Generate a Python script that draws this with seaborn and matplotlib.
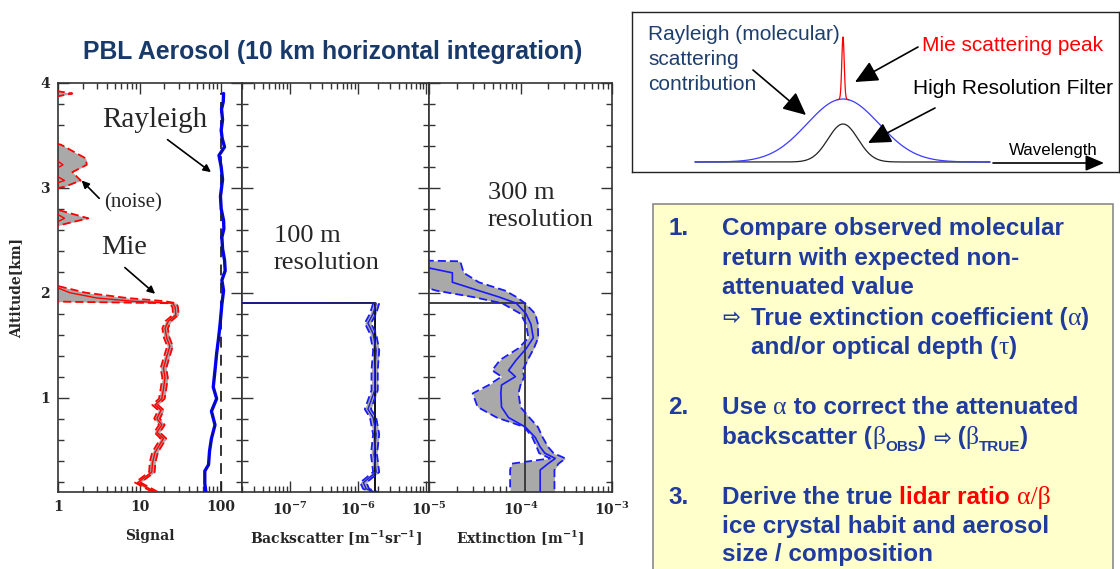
import numpy as np
import matplotlib
matplotlib.use("Agg")
import matplotlib.pyplot as plt
import seaborn as sns
from matplotlib.ticker import FixedLocator, LogLocator, NullFormatter, MultipleLocator
from matplotlib.patches import Rectangle

# ---------------------------------------------------------------- data
# Panel 1 : lidar signal (Rayleigh and Mie channels)
ray_alt = [0.10, 0.18, 0.30, 0.36, 0.49, 0.61, 0.74, 0.87, 0.99, 1.10, 1.26, 1.42,
           1.57, 1.70, 1.89, 2.02, 2.12, 2.21, 2.31, 2.42, 2.53, 2.61, 2.69, 2.80,
           2.92, 3.00, 3.08, 3.20, 3.31, 3.39, 3.47, 3.55, 3.65, 3.75, 3.82, 3.90]
ray_signal = [65, 63, 63, 70, 72, 76, 84, 76, 88, 80, 84, 88,
              93, 97, 102, 107, 102, 112, 110, 104, 102, 108, 107, 100,
              98, 101, 104, 100, 94, 110, 103, 100, 104, 101, 106, 107]
ray_expected_alt = [0.10, 3.90]
ray_expected = [100, 100]

mie_alt = [0.10, 0.19, 0.29, 0.38, 0.48, 0.61, 0.67, 0.74, 0.80, 0.88, 0.93, 0.99,
           1.08, 1.19, 1.28, 1.39, 1.49, 1.57, 1.66, 1.73, 1.79, 1.86, 1.90, 1.92,
           1.95, 2.00, 2.06, 2.12, 2.60, 2.64, 2.71, 2.79, 2.82, 2.97, 3.01, 3.07,
           3.15, 3.22, 3.28, 3.34, 3.41, 3.45, 3.85, 3.90, 3.94, 4.00]
mie_signal = [15.5, 9.5, 14.1, 14.4, 15.5, 19.6, 16.3, 18.7, 16.3, 18.3, 15.5, 18.7,
              19.6, 20.5, 19.6, 21.5, 23.5, 21.5, 20.5, 22.5, 27.8, 27.3, 25.5, 8.0,
              3.0, 1.4, 0.9, 0.6, 0.5, 0.8, 1.2, 0.8, 0.5, 0.5, 0.7, 1.2,
              0.8, 1.15, 0.9, 0.7, 0.6, 0.5, 0.5, 0.8, 0.5, 0.5]
mie_upper = [16.8, 10.3, 15.3, 15.6, 16.8, 21.2, 17.7, 20.3, 17.7, 19.8, 16.8, 20.3,
             21.2, 22.2, 21.2, 23.3, 25.5, 23.3, 22.2, 24.4, 30.1, 29.6, 28.5, 20.0,
             7.0, 2.2, 1.05, 0.7, 0.6, 1.0, 2.35, 1.0, 0.6, 0.6, 1.2, 1.9,
             1.5, 2.25, 2.2, 1.6, 1.1, 0.7, 0.7, 1.5, 0.7, 0.6]
mie_lower = [14.3, 8.8, 13.1, 13.3, 14.3, 18.1, 15.1, 17.3, 15.1, 16.9, 14.3, 17.3,
             18.1, 19.0, 18.1, 19.9, 21.8, 19.9, 19.0, 20.8, 25.7, 25.3, 23.5, 0.4,
             0.4, 0.4, 0.4, 0.4, 0.4, 0.4, 0.4, 0.4, 0.4, 0.4, 0.4, 0.4,
             0.4, 0.4, 0.4, 0.4, 0.4, 0.4, 0.4, 0.4, 0.4, 0.4]

# Panel 2 : backscatter (100 m resolution)
bsc_alt = [1.905, 1.90, 1.80, 1.71, 1.61, 1.45, 1.26, 1.07, 0.89, 0.81, 0.65, 0.46,
           0.29, 0.19, 0.13, 0.10]
bsc_mean = [1e-9, 1.85e-6, 1.67e-6, 1.40e-6, 1.67e-6, 1.85e-6, 1.76e-6, 1.76e-6,
            1.40e-6, 1.67e-6, 1.85e-6, 1.72e-6, 1.85e-6, 1.20e-6, 1.32e-6, 1.76e-6]
bsc_upper = [1e-9, 2.05e-6, 1.85e-6, 1.55e-6, 1.85e-6, 2.05e-6, 1.95e-6, 1.95e-6,
             1.55e-6, 1.85e-6, 2.05e-6, 1.90e-6, 2.05e-6, 1.33e-6, 1.46e-6, 1.95e-6]
bsc_lower = [1e-9, 1.67e-6, 1.50e-6, 1.26e-6, 1.50e-6, 1.67e-6, 1.58e-6, 1.58e-6,
             1.26e-6, 1.50e-6, 1.67e-6, 1.55e-6, 1.67e-6, 1.08e-6, 1.19e-6, 1.58e-6]

# Panel 3 : extinction (300 m resolution)
ext_alt = [2.31, 2.30, 2.24, 2.19, 2.10, 2.02, 1.96, 1.90, 1.80, 1.70, 1.57, 1.47,
           1.36, 1.26, 1.20, 1.12, 1.04, 0.91, 0.81, 0.72, 0.62, 0.53, 0.47, 0.42,
           0.37, 0.31, 0.21, 0.10]
ext_mean = [5e-6, 5e-6, 9.5e-6, 1.8e-5, 1.8e-5, 3.5e-5, 5.8e-5, 9.0e-5, 1.15e-4, 1.30e-4,
            1.38e-4, 1.16e-4, 9.0e-5, 7.4e-5, 8.8e-5, 6.2e-5, 6.1e-5, 6.2e-5, 7.4e-5,
            1.13e-4, 1.45e-4, 1.64e-4, 1.85e-4, 2.4e-4, 2.0e-4, 1.64e-4, 1.64e-4, 1.64e-4]
ext_upper = [5e-6, 2.2e-5, 2.3e-5, 2.4e-5, 3.5e-5, 6.8e-5, 9.0e-5, 1.12e-4, 1.45e-4,
             1.55e-4, 1.56e-4, 1.40e-4, 1.20e-4, 1.05e-4, 1.10e-4, 1.00e-4, 9.5e-5,
             1.00e-4, 1.25e-4, 1.55e-4, 1.75e-4, 2.0e-4, 2.3e-4, 3.1e-4, 2.6e-4,
             2.35e-4, 2.35e-4, 2.35e-4]
ext_lower = [5e-6, 5e-6, 5e-6, 5e-6, 6e-6, 1.2e-5, 3.0e-5, 6.3e-5, 1.0e-4, 1.15e-4,
             1.22e-4, 9.5e-5, 6.0e-5, 4.9e-5, 6.2e-5, 4.5e-5, 3.0e-5, 3.4e-5, 5.5e-5,
             1.1e-4, 1.35e-4, 1.5e-4, 1.6e-4, 2.1e-4, 8.0e-5, 7.7e-5, 7.7e-5, 7.7e-5]

# "true" step profiles
true_alt = [1.90, 1.90, 0.10]
true_bsc = [1e-9, 1.78e-6, 1.78e-6]
true_ext = [1e-9, 1.13e-4, 1.13e-4]

alt_major = [1, 2, 3, 4]
alt_labels = ["1", "2", "3", "4"]
sig_ticks = [1, 10, 100]
sig_labels = ["1", "10", "100"]
bsc_ticks = [1e-7, 1e-6, 1e-5]
bsc_labels = ["10$^{\\mathbf{-7}}$", "10$^{\\mathbf{-6}}$", ""]
ext_ticks = [1e-5, 1e-4, 1e-3]
ext_labels = ["10$^{\\mathbf{-5}}$", "10$^{\\mathbf{-4}}$", "10$^{\\mathbf{-3}}$"]
panel_xlabels = ["Signal", "Backscatter [m$^{\\mathbf{-1}}$sr$^{\\mathbf{-1}}$]",
                 "Extinction [m$^{\\mathbf{-1}}$]"]

# schematic spectrum (Gaussian shape parameters, relative wavelength units)
spec_span = (-148, 147)
rayleigh_height, rayleigh_width = 63, 36
filter_height, filter_width = 38, 15
mie_height, mie_width = 62, 1.2

# ---------------------------------------------------------------- style
sns.set_style("ticks")
plt.rcParams.update({
    "font.family": ["DejaVu Serif"],
    "font.weight": "bold",
    "mathtext.fontset": "dejavuserif",
    "axes.linewidth": 1.2,
    "axes.edgecolor": "#333333",
})

W, H = 1120, 569
fig = plt.figure(figsize=(W / 100, H / 100), dpi=100)
fig.patch.set_facecolor("white")


def px_axes(x0, y0, x1, y1, **kw):
    return fig.add_axes([x0 / W, 1 - y1 / H, (x1 - x0) / W, (y1 - y0) / H], **kw)


ax1 = px_axes(58, 83, 242, 492)
ax2 = px_axes(242, 83, 429, 492)
ax3 = px_axes(429, 83, 612, 492)

GRAY = "#a9a9a9"
DASH = (0, (4.5, 2.2))


def prof(ax, x, y, **kw):
    sns.lineplot(x=np.asarray(x, float), y=np.asarray(y, float), sort=False,
                 estimator=None, ax=ax, legend=False, **kw)


for ax, xl in zip([ax1, ax2, ax3], [(1, 180), (2e-8, 1.1e-5), (1e-5, 1e-3)]):
    ax.set_xscale("log")
    ax.set_xlim(*xl)
    ax.set_ylim(0.1, 4.0)
    ax.set_facecolor("white")

# Panel 1
ax1.fill_betweenx(mie_alt, mie_lower, mie_upper, color=GRAY, lw=0, zorder=1)
prof(ax1, mie_upper, mie_alt, color="red", lw=1.3, linestyle=DASH, zorder=3)
prof(ax1, mie_lower, mie_alt, color="red", lw=1.3, linestyle=DASH, zorder=3)
prof(ax1, mie_signal, mie_alt, color="red", lw=1.0, zorder=3)
prof(ax1, ray_expected, ray_expected_alt, color="#222222", lw=1.3,
     linestyle=(0, (6, 4)), zorder=2)
prof(ax1, ray_signal, ray_alt, color="#0000ff", lw=2.4, zorder=4)
prof(ax1, ray_signal, ray_alt, color="#10106a", lw=0.6, zorder=5)

# Panel 2
ax2.fill_betweenx(bsc_alt[1:], bsc_lower[1:], bsc_upper[1:], color=GRAY, lw=0, zorder=1)
prof(ax2, true_bsc, true_alt, color="#111111", lw=1.4, zorder=3)
prof(ax2, bsc_upper[1:], bsc_alt[1:], color="#1a1aff", lw=1.3, linestyle=DASH, zorder=4)
prof(ax2, bsc_lower[1:], bsc_alt[1:], color="#1a1aff", lw=1.3, linestyle=DASH, zorder=4)
prof(ax2, bsc_mean, bsc_alt, color="#2020c0", lw=1.0, zorder=4)

# Panel 3
ax3.fill_betweenx(ext_alt, ext_lower, ext_upper, color=GRAY, lw=0, zorder=1)
prof(ax3, true_ext, true_alt, color="#333333", lw=1.3, zorder=3)
prof(ax3, ext_upper, ext_alt, color="#1a1aff", lw=1.3, linestyle=DASH, zorder=4)
prof(ax3, ext_lower, ext_alt, color="#1a1aff", lw=1.3, linestyle=DASH, zorder=4)
prof(ax3, ext_mean, ext_alt, color="#1a1aff", lw=1.2, zorder=4)

# axes cosmetics
for ax, ticks, labels, xlab in zip([ax1, ax2, ax3], [sig_ticks, bsc_ticks, ext_ticks],
                                   [sig_labels, bsc_labels, ext_labels], panel_xlabels):
    ax.set_xlabel("")
    ax.set_ylabel("")
    ax.xaxis.set_major_locator(FixedLocator(ticks))
    ax.set_xticklabels(labels)
    ax.xaxis.set_minor_locator(LogLocator(base=10, subs=np.arange(2, 10), numticks=30))
    ax.xaxis.set_minor_formatter(NullFormatter())
    ax.yaxis.set_major_locator(FixedLocator(alt_major))
    ax.yaxis.set_minor_locator(MultipleLocator(0.2))
    ax.tick_params(which="both", direction="in", top=True, right=True,
                   color="#333333", width=1.0, labelsize=10, pad=6)
    ax.tick_params(which="major", length=8)
    ax.tick_params(which="minor", length=4)
    ax.set_xlabel(xlab, fontsize=10, fontweight="bold")
    ax.xaxis.set_label_coords(0.5, -0.09)
    for s in ax.spines.values():
        s.set_visible(True)
        s.set_color("#333333")
        s.set_linewidth(1.2)
    for lab in ax.get_xticklabels():
        lab.set_fontweight("bold")

ax1.set_yticklabels(alt_labels, fontweight="bold")
ax1.set_ylabel("Altitude[km]", fontsize=10, fontweight="bold")
ax1.yaxis.set_label_coords(-0.19, 0.5)
ax2.tick_params(labelleft=False)
ax3.tick_params(labelleft=False)

SERIF = "Liberation Serif"
arrow_small = dict(arrowstyle="-|>", color="black", lw=1.2, mutation_scale=11,
                   shrinkA=0, shrinkB=0)
ax1.text(15.5, 3.65, "Rayleigh", family=SERIF, fontweight="normal", fontsize=21,
         ha="center", va="center")
ax1.annotate("", xy=(75, 3.15), xytext=(22, 3.46), arrowprops=arrow_small)
ax1.text(8.3, 2.855, "(noise)", family=SERIF, fontweight="normal", fontsize=15,
         ha="center", va="center")
ax1.annotate("", xy=(1.95, 3.07), xytext=(3.2, 2.9), arrowprops=arrow_small)
ax1.text(6.5, 2.43, "Mie", family=SERIF, fontweight="normal", fontsize=20.5,
         ha="center", va="center")
ax1.annotate("", xy=(15.5, 1.99), xytext=(6.6, 2.24), arrowprops=arrow_small)

ax2.text(0.17, 0.592, "100 m\nresolution", transform=ax2.transAxes, family=SERIF,
         fontweight="normal", fontsize=19, ha="left", va="center", linespacing=1.3)
ax3.text(0.32, 0.698, "300 m\nresolution", transform=ax3.transAxes, family=SERIF,
         fontweight="normal", fontsize=19, ha="left", va="center", linespacing=1.3)

# ---------------------------------------------------------------- schematic box
sch = px_axes(632, 12, 1119, 172)
sch.set_xlim(632 - 843, 1119 - 843)
sch.set_ylim(-10, 150)
sch.set_xticks([])
sch.set_yticks([])
for s in sch.spines.values():
    s.set_visible(True)
    s.set_color("#222222")
    s.set_linewidth(1.0)
wl = np.linspace(spec_span[0], spec_span[1], 1181)
ray_curve = rayleigh_height * np.exp(-0.5 * (wl / rayleigh_width) ** 2)
filt_curve = filter_height * np.exp(-0.5 * (wl / filter_width) ** 2)
core = np.abs(wl) < 6
mie_curve = ray_curve[core] + mie_height * np.exp(-0.5 * (wl[core] / mie_width) ** 2)
prof(sch, wl, filt_curve, color="#222222", lw=0.9)
prof(sch, wl, ray_curve, color="#3b3bff", lw=0.9)
prof(sch, wl[core], mie_curve, color="red", lw=0.9)
sch.set_xlabel("")
sch.set_ylabel("")

# ---------------------------------------------------------------- overlay
ov = fig.add_axes([0, 0, 1, 1])
ov.set_xlim(0, W)
ov.set_ylim(H, 0)
ov.axis("off")
ov.patch.set_visible(False)

SANS = ["Liberation Sans", "DejaVu Sans"]
ov.text(333, 52, "PBL Aerosol (10 km horizontal integration)", family=SANS,
        fontweight="bold", fontsize=17.8, color="#173a6b", ha="center", va="center")

TOPBLUE = "#1e3f6e"
for yy, s in zip([34, 59, 84], ["Rayleigh (molecular)", "scattering", "contribution"]):
    ov.text(648, yy, s, family=SANS, fontweight="normal", fontsize=15.0,
            color=TOPBLUE, ha="left", va="center")
ov.text(922, 45, "Mie scattering peak", family=SANS, fontweight="normal",
        fontsize=15.0, color="red", ha="left", va="center")
ov.text(913, 88, "High Resolution Filter", family=SANS, fontweight="normal",
        fontsize=15.0, color="black", ha="left", va="center")
ov.text(1053, 150, "Wavelength", family=SANS, fontweight="normal", fontsize=12.2,
        color="black", ha="center", va="center")
arrow_big = dict(arrowstyle="-|>,head_length=0.7,head_width=0.33", color="black",
                 lw=1.2, mutation_scale=20, shrinkA=0, shrinkB=0)
ov.annotate("", xy=(806, 115), xytext=(753, 70), arrowprops=arrow_big)
ov.annotate("", xy=(855, 82), xytext=(918, 47), arrowprops=arrow_big)
ov.annotate("", xy=(868, 143), xytext=(935, 108), arrowprops=arrow_big)
ov.annotate("", xy=(1104, 163), xytext=(993, 163),
            arrowprops=dict(arrowstyle="-|>,head_length=0.7,head_width=0.3",
                            color="black", lw=1.2, mutation_scale=16,
                            shrinkA=0, shrinkB=0))

# yellow text box
ov.add_patch(Rectangle((653, 204), 460, 380, facecolor="#ffffcc",
                       edgecolor="#8a8a8a", lw=1.2, zorder=0))

NAVY = "#1f3b9e"
FS = 17.5
main = dict(family=SANS, fontweight="bold", fontsize=FS, color=NAVY)
greek = dict(family=[SERIF, "DejaVu Serif"], fontweight="normal", fontsize=FS + 1,
             color=NAVY)
sub = dict(family=SANS, fontweight="bold", fontsize=11, color=NAVY)
red_main = dict(main, color="red")
red_greek = dict(greek, color="red")
arrow_glyph = dict(family=["DejaVu Sans"], fontweight="bold", fontsize=FS - 2,
                   color=NAVY)


def rich_line(x, y, pieces):
    s, props, dy = pieces[0]
    t = ov.text(x, y, s, va="center", ha="left", **props)
    for s, props, dy in pieces[1:]:
        t = ov.annotate(s, xy=(1, 0), xycoords=t, xytext=(0, dy),
                        textcoords="offset points", va="bottom", ha="left", **props)
    return t


for yy, num in zip([228, 407, 497], ["1.", "2.", "3."]):
    ov.text(668, yy, num, va="center", ha="left", **main)

rich_line(722, 228, [("Compare observed molecular", main, 0)])
rich_line(722, 258, [("return with expected non-", main, 0)])
rich_line(722, 287, [("attenuated value", main, 0)])
ov.text(722, 318, "\u21e8", va="center", ha="left", **arrow_glyph)
rich_line(751, 318, [("True extinction coefficient (", main, 0), ("\u03b1", greek, 0),
                     (")", main, 0)])
rich_line(751, 347, [("and/or optical depth (", main, 0), ("\u03c4", greek, 0),
                     (")", main, 0)])
rich_line(722, 407, [("Use ", main, 0), ("\u03b1", greek, 0),
                     (" to correct the attenuated", main, 0)])
rich_line(722, 437, [("backscatter (", main, 0), ("\u03b2", greek, 0),
                     ("OBS", sub, -4), (") ", main, 4), ("\u21e8", arrow_glyph, 0),
                     (" (", main, 0), ("\u03b2", greek, 0), ("TRUE", sub, -4),
                     (")", main, 4)])
rich_line(722, 497, [("Derive the true ", main, 0), ("lidar ratio ", red_main, 0),
                     ("\u03b1/\u03b2", red_greek, 0)])
rich_line(722, 526, [("ice crystal habit and aerosol", main, 0)])
rich_line(722, 555, [("size / composition", main, 0)])

fig.savefig("out.png", dpi=100, facecolor="white")
